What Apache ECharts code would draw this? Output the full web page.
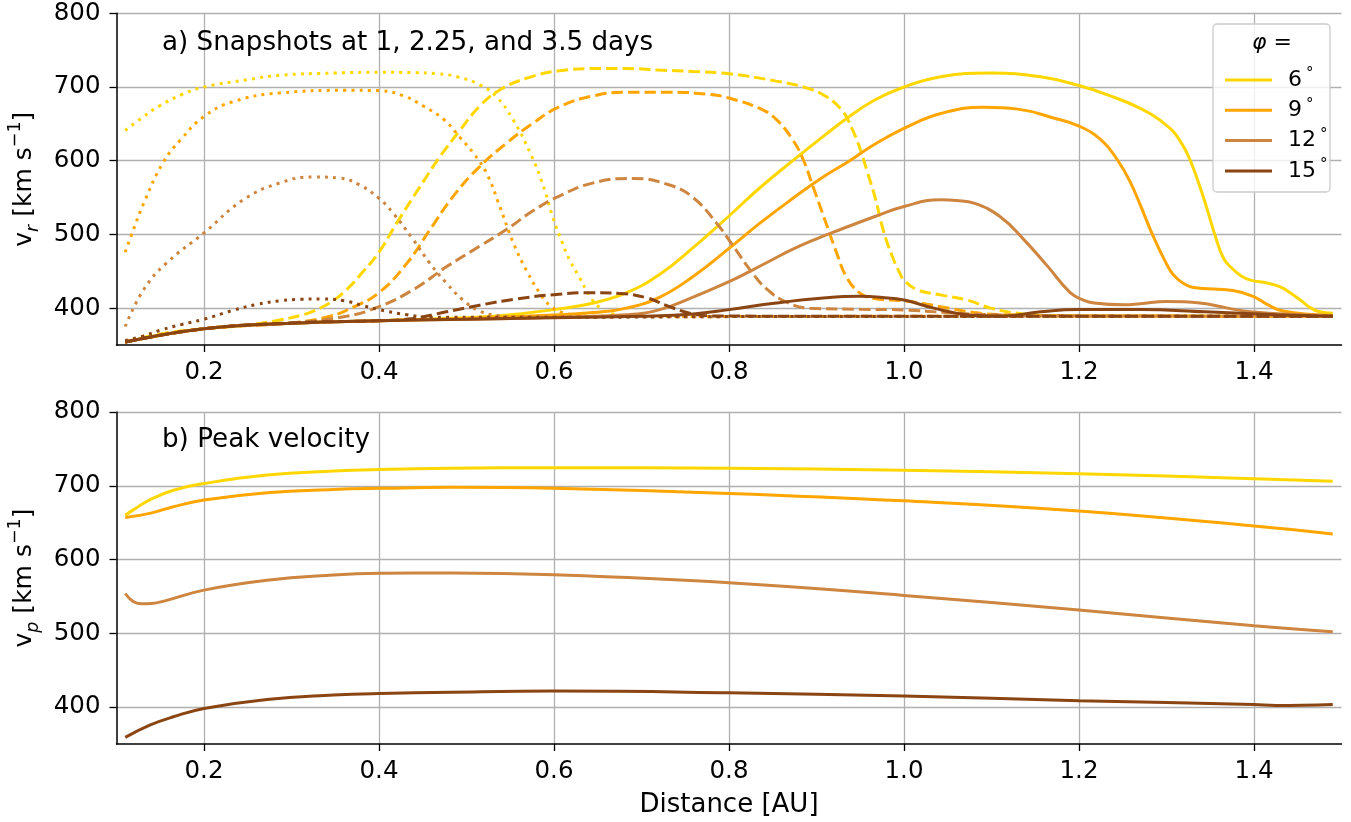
<!DOCTYPE html>
<html><head><meta charset="utf-8">
<script src="https://cdn.jsdelivr.net/npm/echarts@6/dist/echarts.min.js"></script>
<style>html,body{margin:0;padding:0;background:#fff}#c{width:1351px;height:822px}</style>
</head><body><div id="c"></div>
<script>
// ---- tick labels / categories ----
const xTicks = [0.2, 0.4, 0.6, 0.8, 1.0, 1.2, 1.4];
const yTicks = [400, 500, 600, 700, 800];
const phiLabels = ['6°', '9°', '12°', '15°'];

// ---- a) snapshot after 1 day (dotted), [distance AU, v_r km/s] ----
const day1_phi6 = [[0.11,641],[0.13,659],[0.15,675],[0.175,690],[0.2,700],[0.25,710],[0.287,716],[0.35,719],[0.401,720],[0.44,719.5],[0.466,718],[0.489,714],[0.515,703],[0.534,687],[0.553,656],[0.573,610],[0.588,565],[0.599,522],[0.609,490],[0.618,465],[0.629,442],[0.641,416],[0.652,401],[0.665,393],[0.69,389],[0.8,388.5],[1.0,389],[1.49,389]];
const day1_phi9 = [[0.11,476],[0.117,499],[0.131,542],[0.153,597],[0.173,628],[0.2,660],[0.233,680],[0.287,692],[0.363,695.5],[0.4,695],[0.428,688],[0.451,674],[0.474,656],[0.493,631],[0.508,610],[0.523,583],[0.538,538],[0.553,490],[0.569,450],[0.584,420],[0.595,404],[0.61,394],[0.64,389],[0.8,388.5],[1.0,389],[1.49,389]];
const day1_phi12 = [[0.11,375],[0.131,425],[0.157,461],[0.2,502],[0.245,547],[0.287,570],[0.325,578],[0.355,576.5],[0.378,567],[0.4,549],[0.416,529],[0.439,493],[0.458,461],[0.477,434],[0.496,411],[0.515,396],[0.535,390],[0.56,388],[0.8,388.5],[1.49,389]];
const day1_phi15 = [[0.11,356],[0.13,362],[0.15,370],[0.175,378],[0.2,385],[0.233,397],[0.26,405],[0.287,410],[0.31,412],[0.335,412.5],[0.36,410],[0.38,404],[0.4,398],[0.432,391],[0.46,387.5],[0.6,387.5],[0.8,388.5],[1.49,389]];

// ---- a) snapshot after 2.25 days (dashed) ----
const day225_phi6 = [[0.11,354],[0.15,365],[0.2,372],[0.25,377],[0.287,384],[0.31,390],[0.325,396],[0.345,408],[0.363,425],[0.38,447],[0.4,476],[0.42,515],[0.447,565],[0.47,606],[0.493,642],[0.515,674],[0.538,696],[0.569,712],[0.606,722],[0.65,725],[0.683,725],[0.72,723],[0.759,721],[0.8,718],[0.854,708],[0.888,699],[0.911,687],[0.93,667],[0.94,645],[0.949,619],[0.958,585],[0.967,550],[0.976,507],[0.986,472],[0.995,448],[1.0,438],[1.015,425],[1.042,418],[1.072,411],[1.099,400],[1.13,393],[1.164,390],[1.2,389.5],[1.49,389]];
const day225_phi9 = [[0.11,354],[0.2,372],[0.3,380],[0.344,389],[0.37,401],[0.4,421],[0.432,461],[0.458,506],[0.485,552],[0.515,592],[0.546,624],[0.576,651],[0.606,673],[0.645,688],[0.683,693],[0.732,693],[0.778,690],[0.8,685],[0.835,671],[0.854,656],[0.873,628],[0.885,601],[0.896,565],[0.911,515],[0.923,475],[0.934,443],[0.949,421],[0.966,413],[1.0,410],[1.042,402],[1.08,394],[1.118,391],[1.2,389.5],[1.49,389]];
const day225_phi12 = [[0.11,354],[0.2,372],[0.3,380],[0.363,389],[0.4,402],[0.439,425],[0.477,456],[0.515,484],[0.546,507],[0.576,532],[0.606,552],[0.645,570],[0.69,576],[0.732,567],[0.759,550],[0.786,515],[0.805,484],[0.824,452],[0.843,426],[0.866,408],[0.892,400],[0.95,398.5],[1.0,397.5],[1.05,394],[1.1,391],[1.2,389.5],[1.49,389]];
const day225_phi15 = [[0.11,354],[0.2,372],[0.3,380],[0.4,383],[0.439,386],[0.477,395],[0.515,404],[0.554,412],[0.606,419],[0.645,421],[0.675,420],[0.706,414],[0.732,402],[0.759,392],[0.78,389.5],[0.9,389],[1.49,389]];

// ---- a) snapshot after 3.5 days (solid) ----
const day35_phi6 = [[0.11,354],[0.2,372],[0.3,379.5],[0.4,383],[0.5,387],[0.55,391],[0.606,399],[0.645,407],[0.683,421],[0.721,446],[0.759,482],[0.8,525],[0.835,563],[0.879,606],[0.911,636],[0.934,657],[0.966,682],[1.0,700],[1.042,714],[1.099,719],[1.156,714],[1.2,702],[1.232,689.6],[1.27,671],[1.3,648],[1.315,628],[1.327,601],[1.342,551],[1.357,493],[1.365,468],[1.373,456],[1.385,444],[1.396,438],[1.415,434],[1.43,429],[1.44,422],[1.453,411],[1.465,400],[1.475,395],[1.49,393]];
const day35_phi9 = [[0.11,354],[0.2,372],[0.3,379.5],[0.4,383],[0.5,386],[0.606,391],[0.645,394],[0.683,400],[0.721,415],[0.759,443],[0.8,481],[0.835,515],[0.873,549],[0.905,576],[0.938,600],[0.966,622],[1.0,644],[1.042,664],[1.091,672.5],[1.13,670],[1.171,658],[1.2,647],[1.225,628.5],[1.244,601],[1.259,570],[1.27,540],[1.285,497],[1.3,460],[1.308,445],[1.32,433],[1.331,428],[1.376,424],[1.399,416],[1.415,405],[1.433,396],[1.472,391],[1.49,390]];
const day35_phi12 = [[0.11,354],[0.2,372],[0.3,379.5],[0.4,383],[0.5,385],[0.6,387.5],[0.683,391],[0.721,398],[0.759,415],[0.8,436],[0.824,450],[0.85,466],[0.873,480],[0.9,494],[0.928,507],[0.966,524],[1.0,538],[1.042,547],[1.06,546],[1.08,542.5],[1.11,524],[1.137,493],[1.164,457],[1.19,421],[1.205,411],[1.217,407],[1.251,404.5],[1.27,406],[1.3,409],[1.338,407],[1.37,400],[1.396,395],[1.453,391],[1.49,390]];
const day35_phi15 = [[0.11,354],[0.2,372],[0.3,379.5],[0.4,383],[0.5,385],[0.6,387],[0.7,389],[0.759,392],[0.8,398],[0.854,407],[0.911,414],[0.949,416],[0.975,414.5],[1.0,411],[1.034,400],[1.072,391],[1.11,389],[1.156,395],[1.2,398],[1.27,398],[1.344,395],[1.426,391],[1.49,389]];

// ---- b) peak velocity ----
const peak_phi6 = [[0.11,660],[0.12,668],[0.138,681],[0.165,694],[0.2,703],[0.272,714.6],[0.348,720],[0.4,722],[0.483,723.6],[0.6,724.5],[0.8,723.6],[1.0,721],[1.2,716.4],[1.4,709.6],[1.49,706]];
const peak_phi9 = [[0.11,657],[0.138,662.6],[0.165,671.6],[0.2,680.7],[0.272,690.6],[0.348,695],[0.4,696.5],[0.483,697.9],[0.6,696.5],[0.8,689.7],[1.0,679.7],[1.2,665.8],[1.4,645.4],[1.49,634.6]];
const peak_phi12 = [[0.11,554],[0.119,543],[0.128,540],[0.14,540.5],[0.152,543],[0.2,558.6],[0.272,572],[0.348,579],[0.4,581.3],[0.483,581.8],[0.6,579.4],[0.8,568.6],[1.0,551.4],[1.2,531.5],[1.4,510.3],[1.49,502]];
const peak_phi15 = [[0.11,359],[0.138,375.6],[0.165,386.9],[0.2,398.2],[0.272,410.4],[0.348,416.3],[0.4,418.5],[0.483,420.3],[0.6,421.7],[0.8,419.4],[1.0,415],[1.2,408.6],[1.4,403.6],[1.425,402.3],[1.49,403.6]];

const day1 = [day1_phi6, day1_phi9, day1_phi12, day1_phi15];
const day225 = [day225_phi6, day225_phi9, day225_phi12, day225_phi15];
const day35 = [day35_phi6, day35_phi9, day35_phi12, day35_phi15];
const peak = [peak_phi6, peak_phi9, peak_phi12, peak_phi15];

// ---- styling ----
const colors = ['#FFD700', '#FFA500', '#CD853F', '#8B4513'];
const FONT = "'DejaVu Sans', sans-serif";
const LW = 3;
const DOTTED = [3, 5.2];
const DASHED = [11.5, 5];

function mkSeries(name, data, color, type, gi) {
  return {
    type: 'line', name: name, data: data,
    xAxisIndex: gi, yAxisIndex: gi,
    showSymbol: false, symbol: 'none', smooth: 0.45,
    lineStyle: { color: color, width: LW, type: type, cap: 'butt' },
    itemStyle: { color: color },
    emphasis: { disabled: true }, silent: true, animation: false
  };
}
const series = [];
for (let i = 0; i < 4; i++) {
  series.push(mkSeries(phiLabels[i] + ' 1d', day1[i], colors[i], DOTTED, 0));
  series.push(mkSeries(phiLabels[i] + ' 2.25d', day225[i], colors[i], DASHED, 0));
  series.push(mkSeries(phiLabels[i], day35[i], colors[i], 'solid', 0));
}
for (let i = 0; i < 4; i++) series.push(mkSeries(phiLabels[i], peak[i], colors[i], 'solid', 1));

function xAxis(gi, withName) {
  return {
    type: 'value', gridIndex: gi, min: 0.1, max: 1.5,
    axisLine: { show: true, onZero: false, lineStyle: { color: '#000', width: 1.5 } },
    axisTick: { show: true, customValues: xTicks, length: 7, lineStyle: { color: '#000', width: 1.3 } },
    axisLabel: { customValues: xTicks, formatter: v => v.toFixed(1), margin: 15, fontSize: 24.5, fontFamily: FONT, color: '#000' },
    splitLine: { show: true, lineStyle: { color: '#b0b0b0', width: 1.3 } },
    name: withName ? 'Distance [AU]' : '', nameLocation: 'middle', nameGap: 48,
    nameTextStyle: { fontSize: 26, fontFamily: FONT, color: '#000' }
  };
}
function yAxis(gi, sub) {
  return {
    type: 'value', gridIndex: gi, min: 350, max: 800,
    axisLine: { show: true, onZero: false, lineStyle: { color: '#000', width: 1.5 } },
    axisTick: { show: true, customValues: yTicks, length: 7, lineStyle: { color: '#000', width: 1.3 } },
    axisLabel: { customValues: yTicks, margin: 16, fontSize: 24.5, fontFamily: FONT, color: '#000' },
    splitLine: { show: true, lineStyle: { color: '#b0b0b0', width: 1.3 } },
    name: '{v|v}{s|' + sub + '}{t| [km s}{u|−1}{t|]}', nameLocation: 'middle', nameGap: 74, nameRotate: 90,
    nameTextStyle: {
      fontSize: 25, fontFamily: FONT, color: '#000',
      rich: {
        v: { fontSize: 25, fontFamily: FONT, lineHeight: 36, verticalAlign: 'middle' },
        t: { fontSize: 25, fontFamily: FONT, lineHeight: 36, verticalAlign: 'middle' },
        s: { fontSize: 17.5, fontFamily: FONT, fontStyle: 'italic', lineHeight: 17, verticalAlign: 'bottom' },
        u: { fontSize: 17.5, fontFamily: FONT, lineHeight: 17, verticalAlign: 'top' }
      }
    }
  };
}

const chart = echarts.init(document.getElementById('c'), null, { renderer: 'canvas' });
chart.setOption({
  animation: false,
  backgroundColor: '#fff',
  grid: [
    { left: 116.5, top: 13.3, width: 1225, height: 331.7, outerBoundsMode: 'none', containLabel: false },
    { left: 116.5, top: 412, width: 1225, height: 332, outerBoundsMode: 'none', containLabel: false }
  ],
  xAxis: [xAxis(0, false), xAxis(1, true)],
  yAxis: [yAxis(0, 'r'), yAxis(1, 'p')],
  legend: {
    data: phiLabels, orient: 'vertical', left: 1220, top: 62, z: 200,
    icon: 'rect', itemWidth: 47, itemHeight: 3, itemGap: 6.3, selectedMode: false,
    formatter: n => '{n|' + n.replace('°', '') + '}{d|°}',
    textStyle: {
      fontFamily: FONT, fontSize: 22, color: '#000', padding: [0, 0, 0, 11],
      rich: {
        n: { fontSize: 22, fontFamily: FONT, lineHeight: 26, verticalAlign: 'middle' },
        d: { fontSize: 15, fontFamily: FONT, lineHeight: 15, verticalAlign: 'top', padding: [0, 0, 0, 4] }
      }
    }
  },
  graphic: [
    { type: 'rect', z: 100, shape: { x: 1213, y: 24, width: 117, height: 168, r: 4 },
      style: { fill: 'rgba(255,255,255,0.8)', stroke: '#cccccc', lineWidth: 1.3 } },
    { type: 'text', z: 200, x: 1272, y: 43,
      style: { text: '{p|φ} =', align: 'center', verticalAlign: 'middle', fontSize: 22, fontFamily: FONT, fill: '#000',
        rich: { p: { fontSize: 22, fontFamily: FONT, fontStyle: 'italic' } } } },
    { type: 'text', z: 200, x: 162, y: 43,
      style: { text: 'a) Snapshots at 1, 2.25, and 3.5 days', verticalAlign: 'middle', fontSize: 26.2, fontFamily: FONT, fill: '#000' } },
    { type: 'text', z: 200, x: 162, y: 440,
      style: { text: 'b) Peak velocity', verticalAlign: 'middle', fontSize: 26.2, fontFamily: FONT, fill: '#000' } }
  ],
  series: series
});
</script>
</body></html>
